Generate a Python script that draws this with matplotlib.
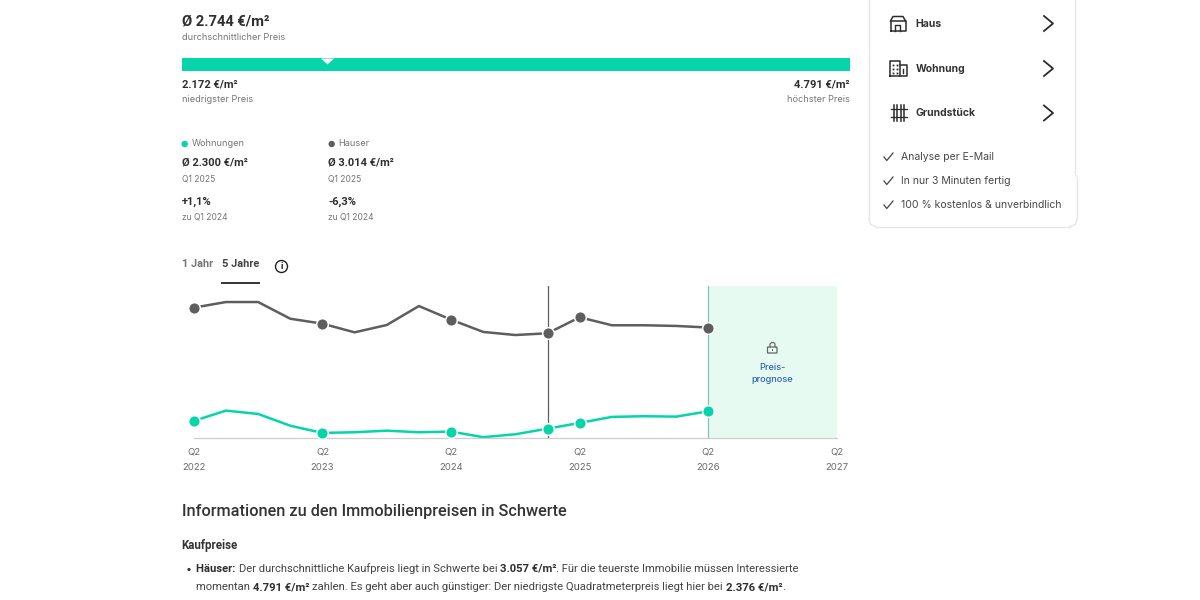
import matplotlib
matplotlib.use("Agg")
import matplotlib.pyplot as plt
from matplotlib.patches import Circle, FancyBboxPatch, Rectangle

plt.rcParams["font.family"] = ["Inter", "DejaVu Sans"]

# price range, EUR per m2
PRICE_MIN = 2172
PRICE_MAX = 4791
PRICE_AVG = 2744

# quarterly prices, first value is Q2 2022, last value is Q2 2026
quarters = list(range(17))
wohnungen = [2358, 2435, 2410, 2322, 2268, 2273, 2285, 2273, 2278, 2236, 2258,
             2300, 2343, 2388, 2393, 2390, 2430]
haeuser = [3206, 3248, 3248, 3123, 3086, 3021, 3076, 3218, 3116, 3024, 3001,
           3014, 3134, 3074, 3074, 3069, 3057]
marker_idx = [0, 4, 8, 11, 12, 16]
hover_quarter = 11
forecast_start = 16
forecast_end = 20

tick_pos = [0, 4, 8, 12, 16, 20]
tick_years = ["2022", "2023", "2024", "2025", "2026", "2027"]

TEAL = "#06d4ab"
GREY = "#5e5e5e"
DARK = "#2f2f2f"
MUTED = "#757575"
BLUE = "#2f66b5"
BORDER = "#e6e8e8"
W, H = 1200, 600
ROBOTO = ["Roboto", "DejaVu Sans"]

fig = plt.figure(figsize=(12, 6), dpi=100, facecolor="white")

# whole page in pixel coordinates, y pointing down, above the chart
page = fig.add_axes([0, 0, 1, 1])
page.set_xlim(0, W)
page.set_ylim(H, 0)
page.axis("off")
page.set_zorder(5)


def txt(x, y, s, size=8, color=DARK, weight="normal", ha="left", family=None):
    return page.text(x, y + 1, s, fontsize=size, color=color, fontweight=weight,
                     ha=ha, va="center", family=family or ["Inter", "DejaVu Sans"])


def inline(x, y, parts, size=8.08):
    # runs of normal and bold text on one baseline
    renderer = fig.canvas.get_renderer()
    for s, bold in parts:
        t = txt(x, y, s, size=size, color=DARK if bold else "#444444",
                weight="bold" if bold else "normal", family=ROBOTO)
        t.set_verticalalignment("baseline")
        t.set_y(y + 4)
        x = t.get_window_extent(renderer).x1


# summary block
txt(181.5, 21, "Ø 2.744 €/m²", size=10.6, weight="bold", family=ROBOTO)
txt(181.5, 37, "durchschnittlicher Preis", size=6.6, color=MUTED)
txt(181.5, 83, "2.172 €/m²", size=8.0, weight="bold", family=ROBOTO)
txt(181.5, 98, "niedrigster Preis", size=6.6, color=MUTED)
txt(849.5, 83, "4.791 €/m²", size=8.0, weight="bold", ha="right", family=ROBOTO)
txt(849.5, 98, "höchster Preis", size=6.6, color=MUTED, ha="right")

# min..max bar with a notch at the average
bar = fig.add_axes([181.5 / W, 1 - 71.2 / H, 668 / W, 13 / H])
bar.set_xlim(PRICE_MIN, PRICE_MAX)
bar.set_ylim(0, 1)
bar.axis("off")
bar.barh(0.5, PRICE_MAX - PRICE_MIN, left=PRICE_MIN, height=1, color=TEAL)
bar.plot([PRICE_AVG], [1.02], marker=[(-1, 0), (1, 0), (0, -0.9)], ms=9.5, color="white",
         mew=0, clip_on=False)

# legend columns
for x, name, col, price, change in [
    (181.5, "Wohnungen", TEAL, "Ø 2.300 €/m²", "+1,1%"),
    (328.5, "Hauser", GREY, "Ø 3.014 €/m²", "-6,3%"),
]:
    page.add_patch(Circle((x + 3.2, 144), 3.2, color=col, lw=0))
    txt(x + 10, 143, name, size=6.6, color=MUTED)
    txt(x, 162, price, size=8.0, weight="bold", family=ROBOTO)
    txt(x, 178, "Q1 2025", size=6.1, color=MUTED)
    txt(x, 200.5, change, size=8.0, weight="bold", family=ROBOTO)
    txt(x, 216.5, "zu Q1 2024", size=6.1, color=MUTED)

# range tabs
txt(181.5, 263, "1 Jahr", size=7.8, color=MUTED, weight="bold", family=ROBOTO)
txt(222, 263, "5 Jahre", size=7.9, color="#444444", weight="bold", family=ROBOTO)
page.plot([222, 259], [282.5, 282.5], color="#333333", lw=1.4)
page.add_patch(Circle((281.5, 266.5), 6, fill=False, ec="#222222", lw=1))
txt(281.5, 265.5, "i", size=6.5, color="#222222", ha="center", weight="bold")

# price chart
ax = fig.add_axes([193.8 / W, 1 - 438 / H, (837 - 193.8) / W, 152 / H])
ax.set_xlim(0, forecast_end)
ax.set_ylim(2230, 3368)
ax.patch.set_alpha(0)
for side in ["top", "left", "right"]:
    ax.spines[side].set_visible(False)
ax.spines["bottom"].set_color("#cdcdcd")
ax.spines["bottom"].set_linewidth(0.9)
ax.set_yticks([])
ax.set_xticks(tick_pos)
ax.set_xticklabels([f"Q2\n{y}" for y in tick_years], fontsize=6.9, color="#6a6a6a",
                   linespacing=2.0)
ax.tick_params(axis="x", length=0, pad=6.5)

ax.axvspan(forecast_start, forecast_end, color="#e6faf2", lw=0, zorder=0)
ax.axvline(forecast_start, color="#7fc4b6", lw=0.9, zorder=1)
ax.axvline(hover_quarter, color=GREY, lw=0.9, zorder=1)

for series, col in [(haeuser, GREY), (wohnungen, TEAL)]:
    ax.plot(quarters, series, color=col, lw=1.8, zorder=2, clip_on=False,
            solid_joinstyle="round")
    ax.plot([quarters[i] for i in marker_idx], [series[i] for i in marker_idx],
            ls="none", marker="o", ms=8.4, mfc=col, mec="white", mew=1.1, zorder=3,
            clip_on=False)

# lock icon and label on the forecast area
page.add_patch(FancyBboxPatch((768, 347.5), 8.5, 5, boxstyle="round,pad=0.5",
                              fill=False, ec="#666666", lw=0.9, zorder=5))
page.plot([770, 770, 771.5, 773.5, 775, 775], [347, 344, 342.5, 342.5, 344, 347],
          color="#666666", lw=0.9)
page.add_patch(Rectangle((771.5, 349.2), 1.4, 1.6, color="#666666", lw=0, zorder=5))
txt(772.5, 367, "Preis-", size=6.7, color=BLUE, ha="center", weight="medium")
txt(772.5, 379, "prognose", size=6.7, color=BLUE, ha="center", weight="medium")

# side card outline
page.plot([869, 869], [0, 219], color=BORDER, lw=1)
page.plot([1074.5, 1074.5], [0, 172], color=BORDER, lw=1)
page.plot([1077, 1077], [178, 219], color=BORDER, lw=1)
page.plot([1074.5, 1077], [172, 177], color=BORDER, lw=0.8)
page.plot([876, 1070], [226.5, 226.5], color=BORDER, lw=1)
page.plot([869, 870.5, 876], [219, 224.5, 226.5], color=BORDER, lw=1)
page.plot([1070, 1075.5, 1077], [226.5, 224.5, 219], color=BORDER, lw=1)

INK = "#2b2b2b"
rows = [("Haus", 23), ("Wohnung", 68), ("Grundstück", 112.5)]
for name, y in rows:
    txt(915.5, y, name, size=7.5, color="#333333", weight="bold")
    page.plot([1044, 1053, 1044], [y - 7, y + 0.5, y + 8], color=INK, lw=1.3)

# Haus icon
page.plot([890.5, 890.5, 905.5, 905.5, 890.5], [31, 21, 21, 31, 31], color=INK, lw=1.1)
page.plot([890.5, 893, 903, 905.5], [21, 16.5, 16.5, 21], color=INK, lw=1.1)
page.plot([895, 895, 900, 900], [31, 25, 25, 31], color=INK, lw=1)
# Wohnung icon
page.plot([890, 890, 900, 900, 890], [76, 61, 61, 76, 76], color=INK, lw=1.1)
page.plot([900, 906.5, 906.5, 900], [65, 65, 76, 76], color=INK, lw=1.1)
for px in [893, 897]:
    for py in [65, 69, 73]:
        page.plot([px], [py], marker="s", ms=1.3, color=INK, mew=0)
page.plot([903.2, 903.2], [69, 72.5], color=INK, lw=1)
# Grundstueck icon
for px in [893.5, 896.5, 900.5, 903.5]:
    page.plot([px, px], [105, 121], color=INK, lw=1.1)
for py in [109, 117]:
    page.plot([890.5, 906.5], [py, py], color=INK, lw=0.9)

checks = [("Analyse per E-Mail", 156.5), ("In nur 3 Minuten fertig", 180.5),
          ("100 % kostenlos & unverbindlich", 204.5)]
for label, y in checks:
    page.plot([884, 886.8, 893], [y + 0.5, y + 4, y - 3.5], color="#444444", lw=0.9)
    txt(901, y, label, size=7.55, color="#484848")

# text below the chart
txt(181.5, 510.5, "Informationen zu den Immobilienpreisen in Schwerte", size=11.7, color="#333333",
    weight="medium", family=ROBOTO)
txt(181.5, 544.5, "Kaufpreise", size=8.3, color="#333333", weight="bold", family=ROBOTO)
page.add_patch(Circle((189, 569.5), 1.6, color="#333333", lw=0))
inline(196.5, 568, [("Häuser: ", True),
                    ("Der durchschnittliche Kaufpreis liegt in Schwerte bei ", False),
                    ("3.057 €/m²", True),
                    (". Für die teuerste Immobilie müssen Interessierte", False)])
inline(196.5, 586.5, [("momentan ", False), ("4.791 €/m² ", True),
                      ("zahlen. Es geht aber auch günstiger: Der niedrigste Quadratmeterpreis liegt hier bei ", False),
                      ("2.376 €/m²", True), (".", False)])

fig.savefig("out.png", dpi=100)
